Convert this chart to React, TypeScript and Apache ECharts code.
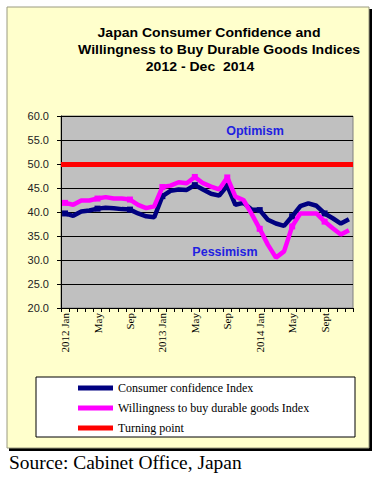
import React, { useEffect, useRef } from "react";
import * as echarts from "echarts";

const categories = [
  "2012 Jan", "Feb", "Mar", "Apr", "May", "Jun", "Jul", "Aug", "Sep", "Oct", "Nov", "Dec",
  "2013 Jan", "Feb", "Mar", "Apr", "May", "Jun", "Jul", "Aug", "Sep", "Oct", "Nov", "Dec",
  "2014 Jan", "Feb", "Mar", "Apr", "May", "Jun", "Jul", "Aug", "Sept", "Oct", "Nov", "Dec",
];

const consumerConfidence = [
  39.7, 39.2, 40.1, 40.3, 40.7, 40.9, 40.8, 40.6, 40.5, 39.7, 39.1, 38.9,
  43.3, 44.4, 44.7, 44.6, 45.6, 44.7, 43.8, 43.4, 45.5, 41.5, 41.9, 40.5,
  40.4, 38.4, 37.6, 37.1, 39.1, 41.2, 41.8, 41.3, 39.7, 38.7, 37.6, 38.5,
];

const willingnessDurable = [
  41.9, 41.5, 42.4, 42.4, 42.8, 43.1, 42.8, 42.8, 42.6, 41.5, 40.8, 41.2,
  45.2, 45.5, 46.2, 46.0, 47.3, 46.0, 45.3, 44.7, 47.2, 43.2, 42.5, 39.6,
  36.5, 33.2, 30.5, 31.8, 37.0, 39.7, 39.7, 39.7, 38.0, 36.6, 35.3, 36.2,
];

const turningPoint = 50;

const seriesNames = [
  "Consumer confidence Index",
  "Willingness to buy durable goods Index",
  "Turning point",
];

const titleLines = [
  "Japan Consumer Confidence and",
  "Willingness to Buy Durable Goods Indices",
  "2012 - Dec  2014",
];

export default function App() {
  const ref = useRef<HTMLDivElement>(null);

  useEffect(() => {
    document.body.style.margin = "0";
    const chart = echarts.init(ref.current!, null, { renderer: "svg" });
    const sans = "Liberation Sans";
    const serif = "Liberation Serif";
    const titleText = (text: string, x: number, y: number) => ({
      type: "text",
      x,
      y,
      scaleX: 1.08,
      style: {
        text,
        fontFamily: sans,
        fontWeight: "bold",
        fontSize: 13,
        fill: "#000",
        textAlign: "center",
        textVerticalAlign: "middle",
      },
    });
    chart.setOption({
      animation: false,
      backgroundColor: "#ffffff",
      grid: {
        left: 61,
        top: 116,
        right: 30,
        bottom: 171,
        show: true,
        backgroundColor: "#C0C0C0",
        borderColor: "#808080",
        borderWidth: 1,
      },
      xAxis: {
        type: "category",
        data: categories,
        boundaryGap: true,
        axisLine: { show: true, lineStyle: { color: "#000", width: 1 } },
        axisTick: { show: true, interval: 0, length: 4, lineStyle: { color: "#000" } },
        axisLabel: {
          interval: 3,
          rotate: 90,
          margin: 5,
          fontFamily: serif,
          fontSize: 11,
          color: "#000",
        },
        splitLine: { show: false },
      },
      yAxis: {
        type: "value",
        min: 20,
        max: 60,
        interval: 5,
        axisLine: { show: true, lineStyle: { color: "#000", width: 1 } },
        axisTick: { show: true, length: 4, lineStyle: { color: "#000" } },
        axisLabel: {
          margin: 12,
          fontFamily: sans,
          fontSize: 11,
          color: "#222",
          formatter: (v: number) => v.toFixed(1),
        },
        splitLine: { show: true, lineStyle: { color: "#000", width: 1 } },
      },
      legend: {
        orient: "vertical",
        left: 78,
        top: 381,
        padding: 0,
        itemWidth: 35,
        itemHeight: 5,
        itemGap: 6,
        icon: "rect",
        data: seriesNames,
        textStyle: { fontFamily: serif, fontSize: 12, color: "#000", lineHeight: 14 },
        selectedMode: false,
      },
      series: [
        {
          name: seriesNames[0],
          type: "line",
          data: consumerConfidence,
          color: "#000080",
          lineStyle: { width: 4.5, color: "#000080" },
          symbol: "rect",
          symbolSize: 6,
          itemStyle: { color: "#000080" },
          z: 3,
        },
        {
          name: seriesNames[1],
          type: "line",
          data: willingnessDurable,
          color: "#FF00FF",
          lineStyle: { width: 4.5, color: "#FF00FF" },
          symbol: "rect",
          symbolSize: 6,
          itemStyle: { color: "#FF00FF" },
          z: 4,
        },
        {
          name: seriesNames[2],
          type: "line",
          data: [],
          color: "#FF0000",
          itemStyle: { color: "#FF0000" },
          lineStyle: { color: "#FF0000", width: 5 },
          markLine: {
            silent: true,
            symbol: ["none", "none"],
            label: { show: false },
            lineStyle: { color: "#FF0000", width: 5, type: "solid" },
            data: [{ yAxis: turningPoint }],
          },
          z: 2,
        },
      ],
      graphic: [
        {
          type: "rect",
          z: -2,
          shape: { x: 9, y: 9, width: 363, height: 442 },
          style: { fill: "#000" },
        },
        {
          type: "rect",
          z: -1,
          shape: { x: 7, y: 7, width: 362, height: 441 },
          style: { fill: "#FFFFCC", stroke: "#9a9a80", lineWidth: 1 },
        },
        titleText(titleLines[0], 209, 33),
        titleText(titleLines[1], 219, 50),
        titleText(titleLines[2], 200, 66.5),
        {
          type: "text",
          x: 255,
          y: 131,
          z: 10,
          style: {
            text: "Optimism",
            fontFamily: sans,
            fontWeight: "bold",
            fontSize: 12.5,
            fill: "#1f1fe0",
            textAlign: "center",
            textVerticalAlign: "middle",
          },
        },
        {
          type: "text",
          x: 225,
          y: 252,
          z: 10,
          style: {
            text: "Pessimism",
            fontFamily: sans,
            fontWeight: "bold",
            fontSize: 12.5,
            fill: "#1f1fe0",
            textAlign: "center",
            textVerticalAlign: "middle",
          },
        },
        {
          type: "rect",
          z: 3,
          shape: { x: 36, y: 377, width: 319, height: 60 },
          style: { fill: "#fff", stroke: "#000", lineWidth: 1 },
        },
        {
          type: "text",
          x: 9,
          y: 463,
          scaleX: 1.08,
          style: {
            text: "Source: Cabinet Office, Japan",
            fontFamily: serif,
            fontSize: 18,
            fill: "#000",
            textAlign: "left",
            textVerticalAlign: "middle",
          },
        },
      ],
    });
    return () => chart.dispose();
  }, []);

  return <div ref={ref} style={{ width: 383, height: 479 }} />;
}
